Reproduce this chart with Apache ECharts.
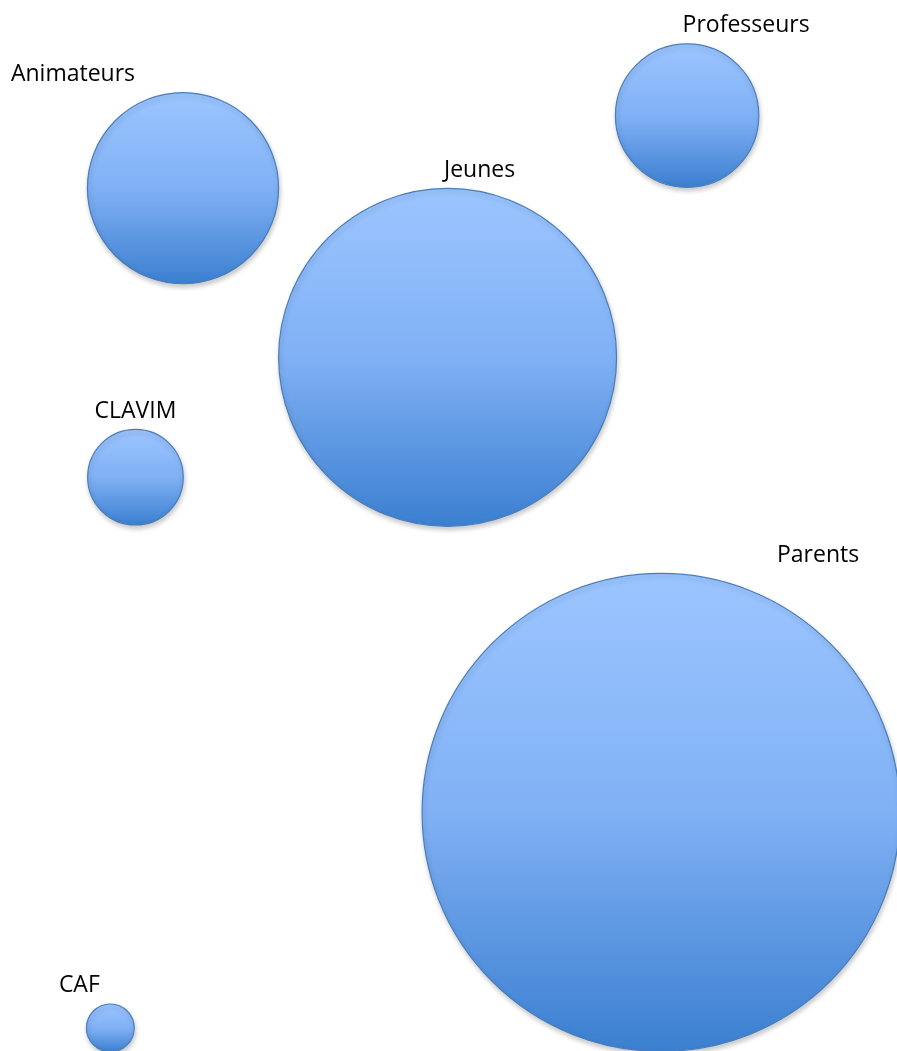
<!DOCTYPE html>
<html>
<head>
<meta charset="utf-8">
<script src="https://cdn.jsdelivr.net/npm/echarts@6/dist/echarts.min.js"></script>
<style>
html,body{margin:0;padding:0;background:#fff;}
#c{width:897px;height:1051px;}
</style>
</head>
<body>
<div id="c"></div>
<script>
const categories = ['Animateurs','Professeurs','Jeunes','CLAVIM','Parents','CAF'];
const xValues = [20.4, 76.6, 49.9, 15.1, 73.7, 12.3];
const yValues = [82.1, 89.0, 66.0, 54.6, 22.7, 2.2];
const sizeValues = [16, 9, 50, 4, 100, 1];
const labelShift = [-110, 59, 32, 0, 157, -31];

const maxSize = Math.max(...sizeValues);
const maxDiameter = 478;

const chart = echarts.init(document.getElementById('c'), null, {renderer:'canvas'});
const data = categories.map((n,i)=>({
  name:n,
  value:[xValues[i], yValues[i], sizeValues[i]],
  label:{offset:[labelShift[i],0]}
}));
chart.setOption({
  animation:false,
  grid:{left:0,right:0,top:0,bottom:0},
  xAxis:{type:'value',min:0,max:100,show:false},
  yAxis:{type:'value',min:0,max:100,show:false},
  series:[{
    type:'scatter',
    clip:false,
    data:data,
    symbolSize:function(v){return maxDiameter*Math.sqrt(v[2]/maxSize);},
    itemStyle:{
      color:new echarts.graphic.LinearGradient(0,0,0,1,[
        {offset:0,color:'#9cc5ff'},
        {offset:0.5,color:'#80b1f5'},
        {offset:1,color:'#3b7fd0'}
      ]),
      borderColor:'#4a7ebb',
      borderWidth:1.2,
      shadowColor:'rgba(0,0,0,0.22)',
      shadowBlur:5,
      shadowOffsetX:1,
      shadowOffsetY:3,
      opacity:1
    },
    label:{
      show:true,
      position:'top',
      distance:6,
      formatter:'{b}',
      color:'#000',
      fontFamily:'"Open Sans", sans-serif',
      fontSize:23
    }
  }]
});
</script>
</body>
</html>
